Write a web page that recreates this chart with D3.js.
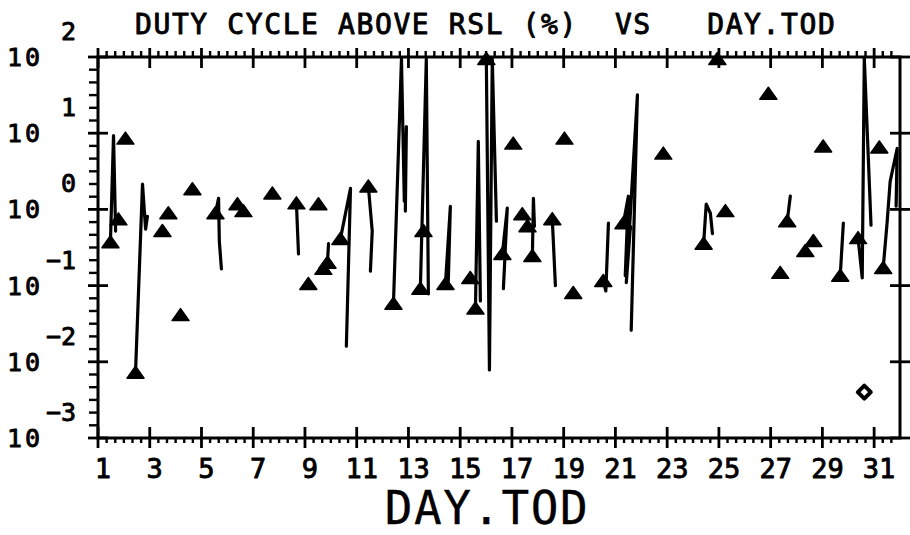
<!DOCTYPE html>
<html>
<head>
<meta charset="utf-8">
<script src="https://cdn.jsdelivr.net/npm/d3@7"></script>
<style>
  body { margin: 0; background: #fff; }
  svg { display: block; }
  text { font-family: "DejaVu Sans Mono", monospace; fill: #000; stroke: #000; stroke-linejoin: round; }
</style>
</head>
<body>
<svg id="chart" width="910" height="535"></svg>
<script>
// ---- data ---------------------------------------------------------------
// Labeled day ticks along the time axis
const dayLabels = [1, 3, 5, 7, 9, 11, 13, 15, 17, 19, 21, 23, 25, 27, 29, 31];
// Decades shown on the log axis (10^e)
const decadeExponents = [2, 1, 0, -1, -2, -3];

// Continuous runs of samples (DAY.TOD, duty cycle %); first sample of each run is marked
const traceDays = [
  [1.48, 1.60, 1.68],
  [2.45, 2.72, 2.84, 2.91],
  [5.54, 5.66, 5.69, 5.77],
  [8.67, 8.75],
  [9.87, 9.91],
  [10.37, 10.76, 10.60],
  [11.45, 11.60, 11.53],
  [12.42, 12.73, 12.84, 12.92, 12.88],
  [13.46, 13.69, 13.77],
  [14.43, 14.62, 14.54],
  [15.59, 15.70, 15.78],
  [16.01, 16.13, 16.24, 16.40],
  [16.63, 16.82, 16.67],
  [17.79, 17.83, 17.87],
  [18.56, 18.68],
  [20.53, 20.63, 20.73],
  [21.31, 21.50, 21.38, 21.58, 21.42, 21.85, 21.61],
  [24.41, 24.51, 24.67, 24.75],
  [27.64, 27.76],
  [29.69, 29.81],
  [30.38, 30.54, 30.62, 30.88],
  [31.35, 31.50, 31.62, 31.89, 31.85]
];
const traceValues = [
  [0.37, 9.3, 0.52],
  [0.0072, 2.14, 0.55, 0.81],
  [0.89, 1.4, 0.38, 0.166],
  [1.2, 0.26],
  [0.2, 0.355],
  [0.41, 1.89, 0.016],
  [2.0, 0.52, 0.155],
  [0.058, 94, 1.28, 12.2, 0.95],
  [0.091, 94, 0.078],
  [0.105, 1.1, 0.115],
  [0.05, 7.8, 0.063],
  [94, 0.0078, 94, 0.70],
  [0.26, 1.04, 0.091],
  [0.245, 1.4, 0.6],
  [0.745, 0.1],
  [0.115, 0.085, 0.66],
  [0.66, 1.49, 0.135, 0.6, 0.109, 31.9, 0.026],
  [0.355, 1.17, 0.89, 0.48],
  [0.70, 1.49],
  [0.135, 0.66],
  [0.42, 0.126, 97, 0.62],
  [0.17, 0.66, 2.33, 6.3, 1.1]
];

// Isolated samples
const singleDays = [1.79, 2.06, 3.49, 3.72, 4.19, 4.65, 6.39, 6.62, 7.74, 9.52, 9.13, 9.71,
  13.58, 15.39, 17.05, 17.40, 17.60, 19.03, 19.37, 22.85, 25.25, 24.94, 26.91, 27.37,
  28.34, 28.65, 29.03, 31.20];
const singleValues = [0.74, 8.5, 0.52, 0.89, 0.041, 1.84, 1.17, 0.95, 1.62, 1.17, 0.105, 0.166,
  0.52, 0.126, 7.3, 0.865, 0.6, 8.5, 0.08, 5.4, 0.95, 94, 32.9, 0.147,
  0.285, 0.385, 6.7, 6.5];

// Odd sample drawn with a diamond symbol
const diamondDays = [30.62];
const diamondValues = [0.004];

// ---- scales -------------------------------------------------------------
const svg = d3.select("#chart");
const x = d3.scaleLinear().domain([1, 32]).range([98, 900]);
const y = d3.scaleLog().domain([1e-3, 1e2]).range([438, 57]);
const [x0, x1] = x.range();
const [yb, yt] = y.range();

const ink = "#000";

// ---- frame --------------------------------------------------------------
const frame = svg.append("g").attr("stroke", ink).attr("fill", "none");
frame.append("rect")
  .attr("x", x0).attr("y", yt).attr("width", x1 - x0).attr("height", yb - yt)
  .attr("stroke-width", 3);

// x ticks: minor every 8 hours, major on odd days
const minorDays = d3.range(1, 32 + 1e-9, 1 / 3)
  .filter(d => Math.abs(d - Math.round(d)) > 1e-6 || Math.round(d) % 2 === 0)
  .filter(d => d < 31.99);
frame.selectAll("line.xmin-top").data(minorDays).join("line")
  .attr("x1", d => x(d)).attr("x2", d => x(d)).attr("y1", yt).attr("y2", yt - 6)
  .attr("stroke-width", 2.4);
frame.selectAll("line.xmin-bot").data(minorDays).join("line")
  .attr("x1", d => x(d)).attr("x2", d => x(d)).attr("y1", yb).attr("y2", yb + 5)
  .attr("stroke-width", 2.4);
frame.selectAll("line.xmaj-top").data(dayLabels).join("line")
  .attr("x1", d => x(d)).attr("x2", d => x(d)).attr("y1", yt - 9).attr("y2", yt + 11)
  .attr("stroke-width", 2.8);
frame.selectAll("line.xmaj-bot").data(dayLabels).join("line")
  .attr("x1", d => x(d)).attr("x2", d => x(d)).attr("y1", yb - 11).attr("y2", yb + 10)
  .attr("stroke-width", 2.8);

// y ticks: decades cross both verticals, five subdivisions per decade on the left
frame.selectAll("line.ymaj-l").data(decadeExponents).join("line")
  .attr("x1", x0 - 10).attr("x2", x0 + 10)
  .attr("y1", e => y(Math.pow(10, e))).attr("y2", e => y(Math.pow(10, e)))
  .attr("stroke-width", 2.8);
frame.selectAll("line.ymaj-r").data(decadeExponents).join("line")
  .attr("x1", x1 - 10).attr("x2", x1 + 10)
  .attr("y1", e => y(Math.pow(10, e))).attr("y2", e => y(Math.pow(10, e)))
  .attr("stroke-width", 2.8);
const minorExp = [];
decadeExponents.slice(1).forEach(e => { for (let k = 1; k < 6; k++) minorExp.push(e + k / 6); });
frame.selectAll("line.ymin").data(minorExp).join("line")
  .attr("x1", x0 - 9).attr("x2", x0)
  .attr("y1", e => y(Math.pow(10, e))).attr("y2", e => y(Math.pow(10, e)))
  .attr("stroke-width", 2.4);

// ---- labels -------------------------------------------------------------
svg.append("text")
  .attr("x", 135).attr("y", 34)
  .style("white-space", "pre")
  .attr("font-size", 28).attr("letter-spacing", 1.6).attr("stroke-width", 0.9)
  .text("DUTY CYCLE ABOVE RSL (%)  VS   DAY.TOD");

svg.selectAll("text.xtick").data(dayLabels).join("text")
  .attr("class", "xtick")
  .attr("x", d => x(d) + 5).attr("y", 478)
  .attr("text-anchor", "middle").attr("font-size", 27).attr("stroke-width", 0.9)
  .text(d => d);

svg.append("text")
  .attr("x", 487).attr("y", 524)
  .attr("text-anchor", "middle").attr("font-size", 46).attr("letter-spacing", 1.5)
  .attr("stroke-width", 0.3)
  .text("DAY.TOD");

const ylab = svg.selectAll("g.ylab").data(decadeExponents).join("g")
  .attr("transform", e => `translate(0,${y(Math.pow(10, e))})`);
ylab.append("text")
  .attr("x", 7).attr("y", 9)
  .attr("font-size", 25).attr("letter-spacing", 3).attr("stroke-width", 0.9)
  .text("10");
ylab.append("text")
  .attr("x", 76).attr("y", -17)
  .attr("text-anchor", "end").attr("font-size", 25).attr("stroke-width", 0.9)
  .text(e => e < 0 ? "\u2212" + Math.abs(e) : String(e));

// ---- data marks ---------------------------------------------------------
const plot = svg.append("g");
const line = d3.line().x(d => x(d[0])).y(d => y(d[1]));
const traces = traceDays.map((ds, i) => ds.map((d, j) => [d, traceValues[i][j]]));

plot.selectAll("path.trace").data(traces).join("path")
  .attr("d", line)
  .attr("fill", "none").attr("stroke", ink).attr("stroke-width", 3.2)
  .attr("stroke-linejoin", "round").attr("stroke-linecap", "round");

const tri = "M0,-6.5 L8.5,5.5 L-8.5,5.5 Z";
const markers = traces.map(t => t[0]).concat(singleDays.map((d, i) => [d, singleValues[i]]));
plot.selectAll("path.tri").data(markers).join("path")
  .attr("d", tri)
  .attr("transform", d => `translate(${x(d[0])},${y(d[1])})`)
  .attr("fill", ink).attr("stroke", ink).attr("stroke-width", 1.5).attr("stroke-linejoin", "round");

plot.selectAll("path.dia").data(diamondDays.map((d, i) => [d, diamondValues[i]])).join("path")
  .attr("d", "M0,-6.5 L6.5,0 L0,6.5 L-6.5,0 Z")
  .attr("transform", d => `translate(${x(d[0])},${y(d[1])})`)
  .attr("fill", "#fff").attr("stroke", ink).attr("stroke-width", 4).attr("stroke-linejoin", "round");
</script>
</body>
</html>
